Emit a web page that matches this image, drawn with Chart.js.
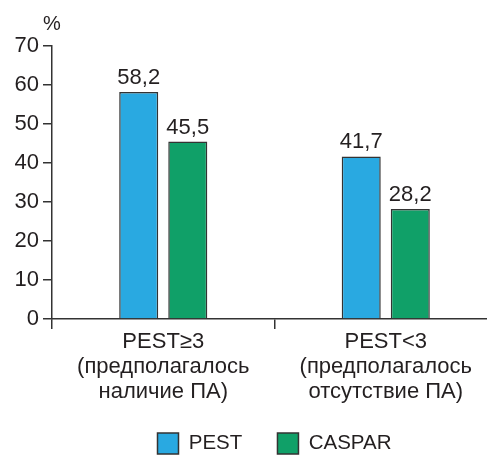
<!DOCTYPE html>
<html>
<head>
<meta charset="utf-8">
<script src="https://cdn.jsdelivr.net/npm/chart.js@4.4.1/dist/chart.umd.min.js"></script>
<style>
  html, body { margin: 0; padding: 0; background: #fff; overflow: hidden; }
  #wrap { width: 497px; height: 464px; }
</style>
</head>
<body>
<div id="wrap"><canvas id="c" width="497" height="464"></canvas></div>
<script>
const categories = [
  ['PEST≥3', '(предполагалось', 'наличие ПА)'],
  ['PEST<3', '(предполагалось', 'отсутствие ПА)']
];
const seriesNames = ['PEST', 'CASPAR'];
const pestValues = [58.2, 41.7];
const casparValues = [45.5, 28.2];
const yTicks = [0, 10, 20, 30, 40, 50, 60, 70];
const unitLabel = '%';

const INK = '#231f20';
const FONT = "'Liberation Sans', Arial, Helvetica, sans-serif";
Chart.defaults.font.family = FONT;
Chart.defaults.color = INK;

const fmt = v => String(v).replace('.', ',');

const valueLabels = {
  id: 'valueLabels',
  afterDatasetsDraw(chart) {
    const ctx = chart.ctx;
    ctx.save();
    ctx.font = '22px ' + FONT;
    ctx.fillStyle = INK;
    ctx.textAlign = 'center';
    ctx.textBaseline = 'alphabetic';
    chart.data.datasets.forEach((ds, di) => {
      chart.getDatasetMeta(di).data.forEach((bar, i) => {
        ctx.fillText(fmt(ds.data[i]), bar.x, bar.y - 8);
      });
    });
    const ys = chart.scales.y;
    ctx.font = '20px ' + FONT;
    ctx.fillText(unitLabel, ys.right, ys.top - 16);
    ctx.restore();
  }
};

new Chart(document.getElementById('c'), {
  type: 'bar',
  data: {
    labels: categories,
    datasets: [
      { label: seriesNames[0], data: pestValues, backgroundColor: '#29a9e1', borderColor: '#333', borderWidth: 1.5 },
      { label: seriesNames[1], data: casparValues, backgroundColor: '#10a068', borderColor: '#333', borderWidth: 1.5 }
    ]
  },
  options: {
    responsive: false,
    animation: false,
    events: [],
    layout: { padding: { top: 46, left: 0, right: 0, bottom: 0 } },
    categoryPercentage: 0.441,
    barPercentage: 0.796,
    plugins: {
      tooltip: { enabled: false },
      legend: {
        position: 'bottom',
        fullSize: false,
        labels: {
          boxWidth: 21,
          boxHeight: 21,
          padding: 1,
          font: { size: 20.5, lineHeight: 1 },
          color: INK,
          generateLabels(chart) {
            const items = Chart.defaults.plugins.legend.labels.generateLabels(chart);
            items.forEach((it, i) => { if (i === 0) it.text = it.text + '      '; });
            return items;
          }
        }
      }
    },
    scales: {
      x: {
        grid: { offset: true, drawOnChartArea: false, drawTicks: true, tickLength: 10, color: '#333', lineWidth: 1.5 },
        border: { color: '#333', width: 1.5 },
        ticks: { font: { size: 22, lineHeight: 25 / 22 }, color: INK, padding: 0, maxRotation: 0, autoSkip: false },
        title: { display: true, text: ' ', font: { size: 12, lineHeight: 1.2 }, padding: { top: 7, bottom: 6.5 } }
      },
      y: {
        min: 0,
        max: 70,
        afterBuildTicks(scale) { scale.ticks = yTicks.map(v => ({ value: v })); },
        afterFit(scale) { scale.width = 52; },
        grid: { drawOnChartArea: false, drawTicks: true, tickLength: 9, color: '#333', lineWidth: 1.5 },
        border: { color: '#333', width: 1.5 },
        ticks: { font: { size: 22 }, color: INK, padding: 4 }
      }
    }
  },
  plugins: [valueLabels]
});
</script>
</body>
</html>
